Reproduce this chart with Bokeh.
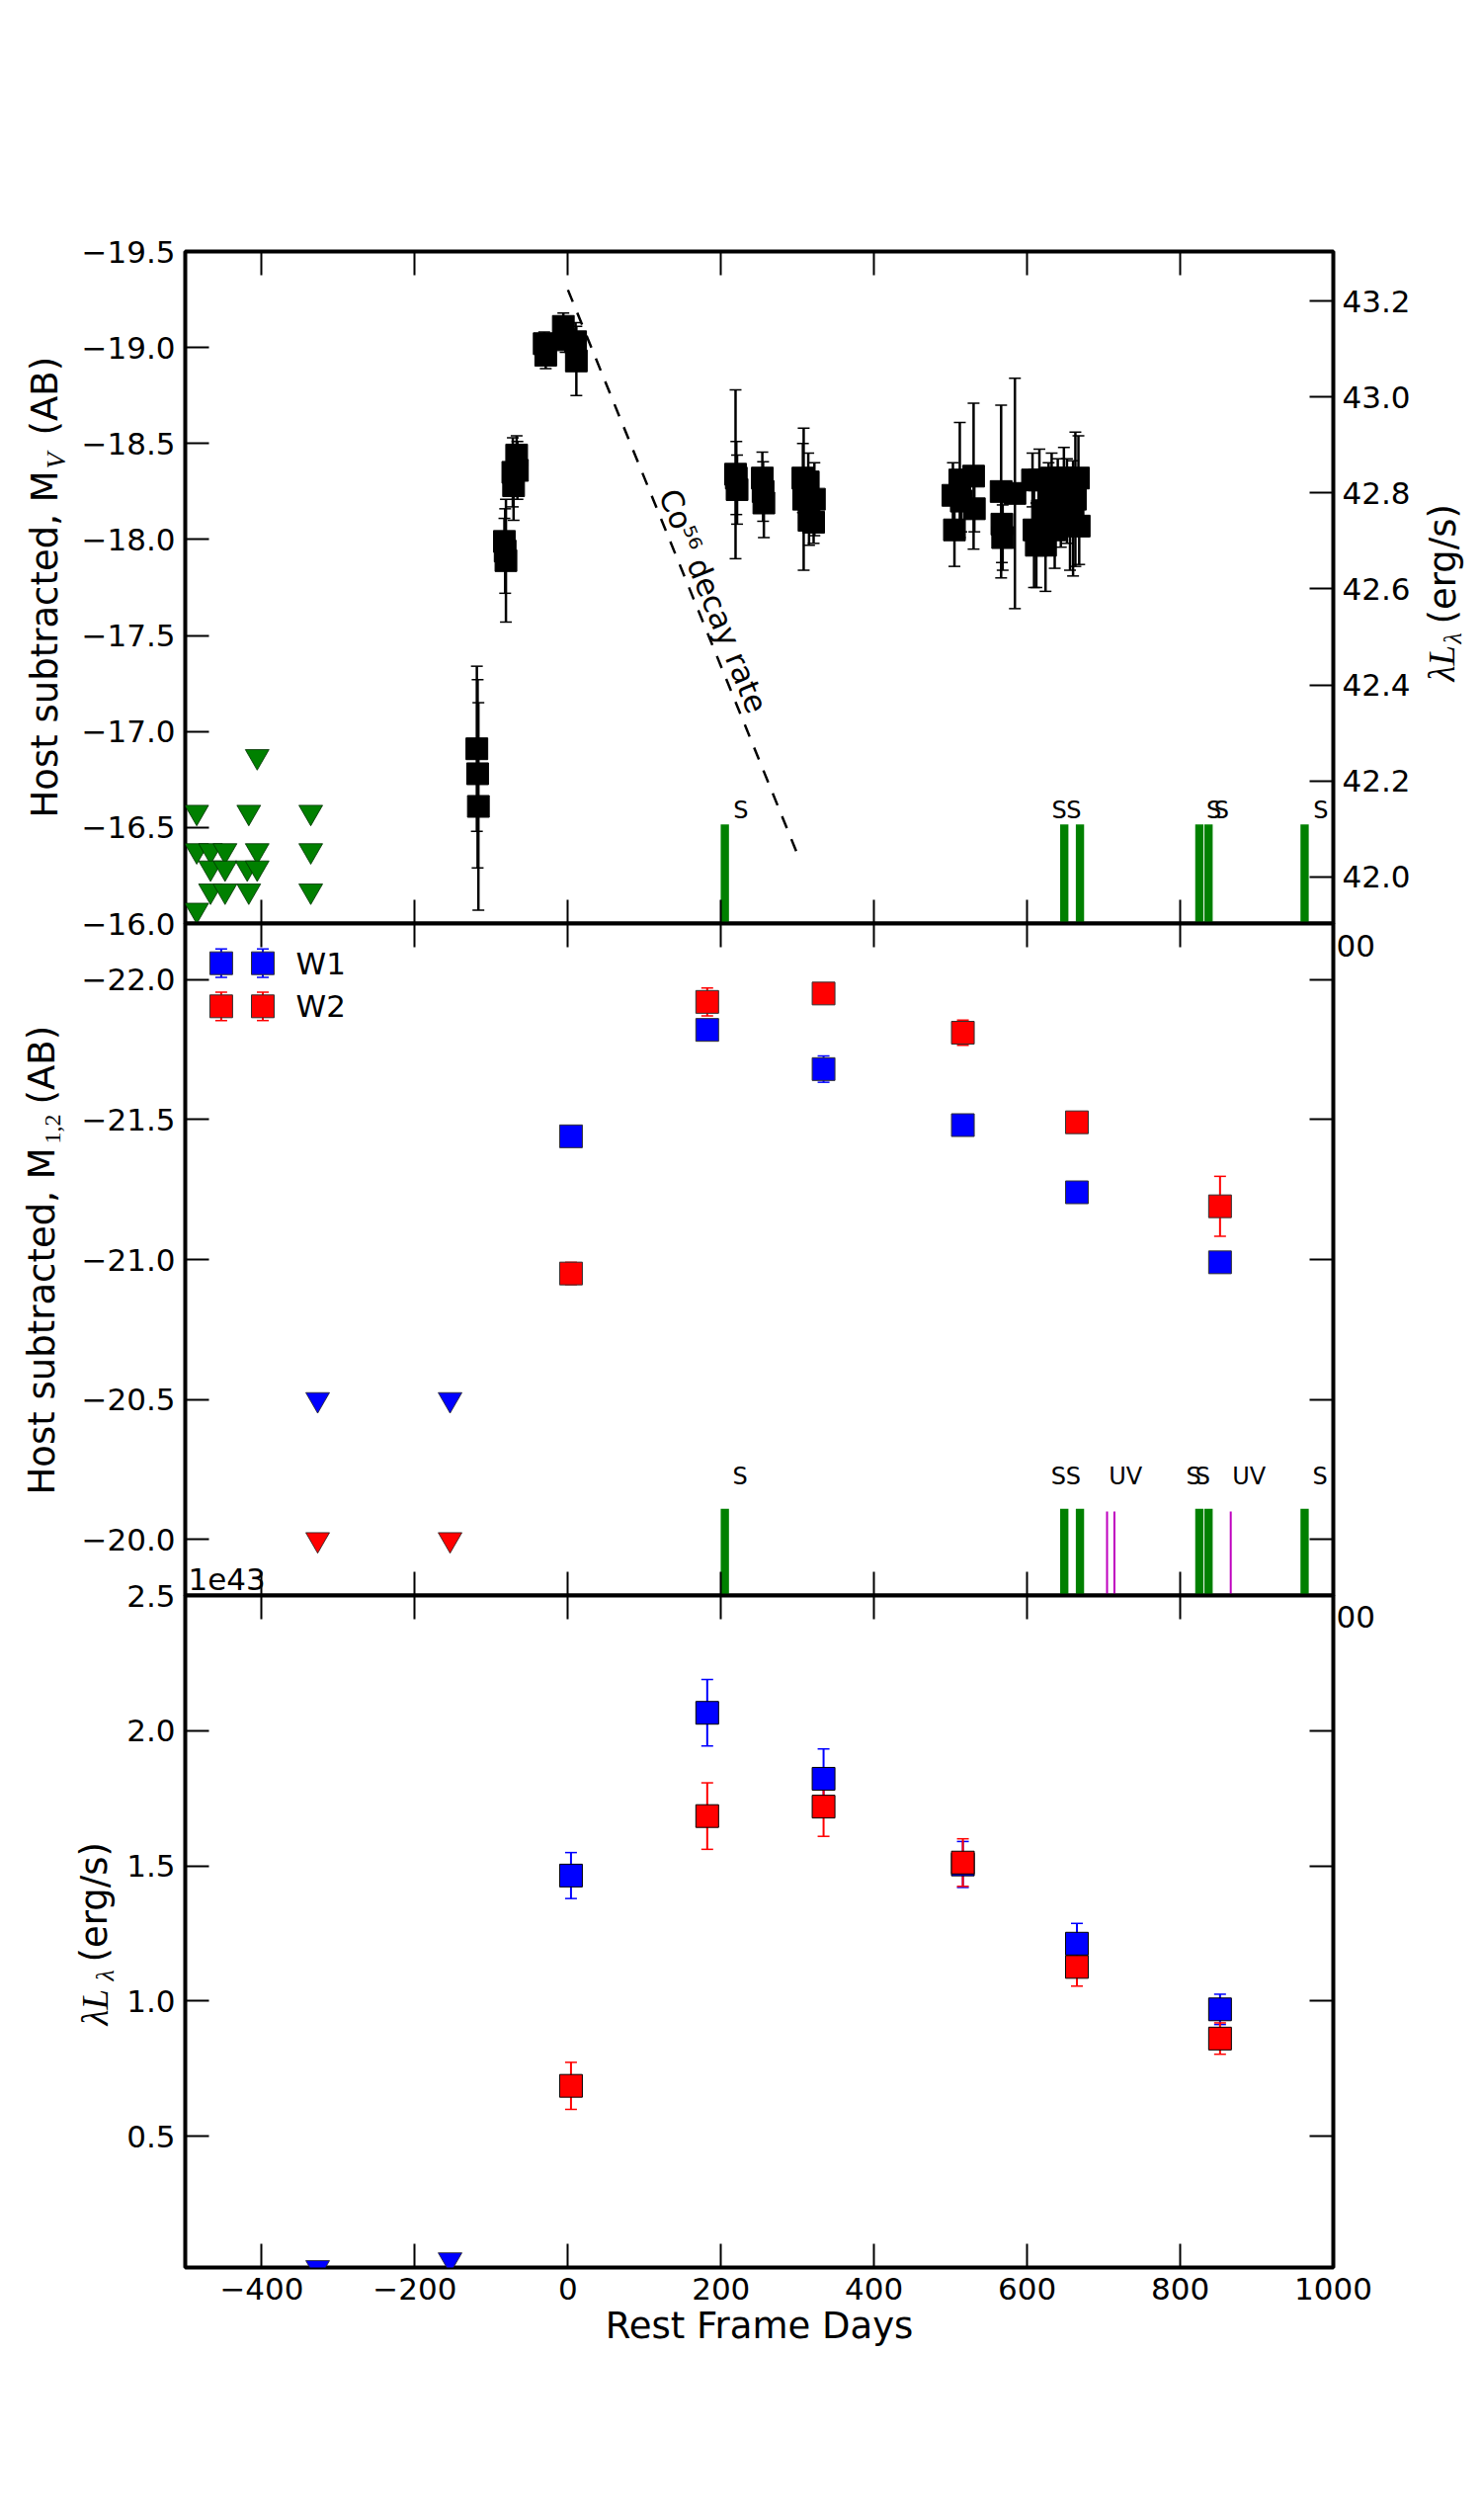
from bokeh.plotting import figure
from bokeh.models import (Range1d, LinearAxis, FixedTicker, CustomJSTickFormatter,
                          Label, Whisker, TeeHead, ColumnDataSource)
from bokeh.layouts import column
from bokeh.core.properties import value
from bokeh.embed import file_html
from bokeh.resources import INLINE

# ---------------------------------------------------------------- data
# Panel 1: host-subtracted V-band absolute magnitude
V_LIM_DAYS = [-485, -485, -485, -467, -467, -467, -448, -448, -448,
              -417, -419, -417, -406, -406, -406, -336, -336, -336]
V_LIM_MAG = [-16.58, -16.38, -16.07, -16.38, -16.29, -16.17, -16.38, -16.29, -16.17,
             -16.58, -16.29, -16.17, -16.87, -16.38, -16.29, -16.58, -16.38, -16.17]

V_DAYS = [-119, -118, -117, -83, -82, -81, -72, -71, -67, -66,
          -31, -29, -6, -3, 10, 11,
          219, 220, 221, 254, 255, 256, 307, 308, 314, 315, 322, 321,
          503, 505, 512, 514, 530, 531, 566, 567, 568, 584, 607, 609, 612, 616,
          620, 624, 628, 632, 636, 640, 644, 648, 652, 656, 660, 663, 667, 668]
V_MAG = [-16.91, -16.78, -16.61, -17.99, -17.94, -17.89, -18.35, -18.28, -18.44, -18.36,
         -19.02, -18.96, -19.11, -19.04, -19.03, -18.93,
         -18.34, -18.32, -18.26, -18.32, -18.25, -18.19, -18.32, -18.21, -18.30, -18.10,
         -18.21, -18.09,
         -18.23, -18.05, -18.31, -18.20, -18.33, -18.16, -18.25, -18.08, -18.01, -18.24,
         -18.31, -18.05, -17.97, -18.31, -18.15, -17.97, -18.22, -18.32, -18.05, -18.28,
         -18.12, -18.32, -18.20, -18.08, -18.11, -18.21, -18.32, -18.07]
V_ERR = [0.43, 0.49, 0.54, 0.12, 0.22, 0.32, 0.18, 0.18, 0.10, 0.15,
         0.06, 0.07, 0.07, 0.065, 0.10, 0.18,
         0.44, 0.19, 0.18, 0.135, 0.155, 0.18, 0.18, 0.37, 0.15, 0.13, 0.19, 0.11,
         0.17, 0.19, 0.30, 0.16, 0.38, 0.12, 0.45, 0.20, 0.17, 0.60, 0.14, 0.30, 0.22,
         0.16, 0.20, 0.24, 0.18, 0.13, 0.20, 0.14, 0.16, 0.16, 0.22, 0.24, 0.30, 0.35,
         0.22, 0.20]

CO_DAYS = [0, 300]
CO_MAG = [-19.30, -16.36]
CO_TEXT = "Co\u2075\u2076 decay rate"

# Spectroscopy / UV epochs (markers on panels 1 and 2)
SPEC_DAYS = [205, 648.5, 669, 825, 837, 962.5]
UV_DAYS = [704.4, 714, 866]
P1_S_LABEL_DAYS = [216, 632, 651, 834, 844, 974]
P2_S_LABEL_DAYS = [215, 631, 650.6, 807.7, 819.7, 973]
P2_UV_LABEL_DAYS = [706.6, 868]

# Panels 2 and 3: WISE W1 / W2
WISE_DAYS = [4, 182, 334, 516, 665, 852]
W1_MAG = [-21.44, -21.82, -21.68, -21.48, -21.24, -20.99]
W1_MAG_ERR = [0.01, 0.02, 0.047, 0.01, 0.01, 0.01]
W2_MAG = [-20.95, -21.92, -21.95, -21.81, -21.49, -21.19]
W2_MAG_ERR = [0.04, 0.05, 0.01, 0.045, 0.01, 0.107]
WISE_LIM_DAYS = [-327, -154]
W1_LIM_MAG = [-20.5, -20.5]
W2_LIM_MAG = [-20.0, -20.0]

W1_LUM = [1.464, 2.066, 1.822, 1.505, 1.212, 0.969]      # units of 1e43 erg/s
W1_LUM_ERR = [0.085, 0.123, 0.110, 0.085, 0.075, 0.056]
W2_LUM = [0.686, 1.684, 1.719, 1.512, 1.126, 0.861]
W2_LUM_ERR = [0.087, 0.123, 0.110, 0.088, 0.071, 0.058]
W1_LIM_LUM = [0.014, 0.043]

# ticks
X_TICKS = [-400, -200, 0, 200, 400, 600, 800, 1000]
P1_TICKS = [-19.5, -19.0, -18.5, -18.0, -17.5, -17.0, -16.5, -16.0]
P1R_TICKS = [42.0, 42.2, 42.4, 42.6, 42.8, 43.0, 43.2]
P2_TICKS = [-22.0, -21.5, -21.0, -20.5, -20.0]
P3_TICKS = [0.5, 1.0, 1.5, 2.0, 2.5]

# ---------------------------------------------------------------- style / layout
FONT = "DejaVu Sans"
MATH = "Liberation Serif"
GREEN, BLUE, RED, MAG = "#008000", "#0000ff", "#ff0000", "#bf00bf"
W, H = 1500, 2550
BL, BR = 187, 151           # left / right borders
PH = 680                    # frame height of each panel
TOP1 = 254
B12 = 60                    # bottom border of panels 1, 2 (hidden under next panel)
T2, T3 = 10, 40
BOT3 = 256
XR = (-500, 1000)
Y1 = (-16.0, -19.5)
Y1R = (41.903, 43.303)
Y2 = (-19.8, -22.2)
Y3 = (0.014, 2.5)
P1_BAR_TOP, P1_LABEL_Y = -16.516, -16.59
P2_BAR_TOP, P2_UV_TOP, P2_LABEL_Y = -20.11, -20.10, -20.226
BAR_W = 10.8


def fx(px):
    return XR[0] + (px - BL) * (XR[1] - XR[0]) / (W - BL - BR)


def fy(py, yr, top):
    return yr[1] + (py - top) * (yr[0] - yr[1]) / PH


def num_fmt(d):
    return CustomJSTickFormatter(
        code="const s = Math.abs(tick).toFixed(%d); return (tick < -1e-9 ? '\u2212' : '') + s;" % d)


def make_fig(h, top, bottom, yr):
    p = figure(width=W, height=h, x_range=Range1d(*XR), y_range=Range1d(*yr),
               output_backend="svg", toolbar_location=None,
               x_axis_location=None, y_axis_location=None,
               min_border_left=BL, min_border_right=BR,
               min_border_top=top, min_border_bottom=bottom,
               background_fill_color="white", border_fill_color="white",
               border_fill_alpha=0, outline_line_color="black", outline_line_width=4)
    p.grid.visible = False
    return p


def add_axis(p, loc, ticks, labels=True, digits=1, standoff=10, y_range_name=None):
    kw = {}
    if y_range_name:
        kw["y_range_name"] = y_range_name
    ax = LinearAxis(ticker=FixedTicker(ticks=ticks, minor_ticks=[]),
                    formatter=num_fmt(digits) if labels else CustomJSTickFormatter(code="return '';"),
                    **kw)
    ax.axis_line_color = None
    ax.major_tick_in = 24
    ax.major_tick_out = 0
    ax.minor_tick_in = 0
    ax.minor_tick_out = 0
    ax.major_tick_line_width = 2
    ax.major_tick_line_color = "black"
    ax.major_label_text_font = FONT
    ax.major_label_text_color = "black"
    if labels:
        ax.major_label_text_font_size = "31px"
        ax.major_label_standoff = standoff
    else:
        ax.major_label_text_font_size = "0px"
        ax.major_label_standoff = 0
    p.add_layout(ax, loc)
    return ax


def add_err(p, xs, ys, errs, color, width, head_w):
    src = ColumnDataSource(dict(x=xs, lo=[y - e for y, e in zip(ys, errs)],
                                hi=[y + e for y, e in zip(ys, errs)]))
    p.add_layout(Whisker(source=src, base="x", lower="lo", upper="hi", dimension="height",
                         line_color=color, line_width=width,
                         lower_head=TeeHead(size=12, line_color=color, line_width=head_w),
                         upper_head=TeeHead(size=12, line_color=color, line_width=head_w)))


def add_label(p, text, x, y, font=FONT, style="normal", size=37, angle=90,
              align="left", baseline="middle"):
    p.add_layout(Label(x=x, y=y, text=text, angle=angle, angle_units="deg",
                       text_font=font, text_font_style=style, text_font_size="%dpx" % size,
                       text_color="black", text_align=align, text_baseline=baseline))


# ---------------------------------------------------------------- panel 1
p1 = make_fig(TOP1 + PH + B12, TOP1, B12, Y1)
p1.extra_y_ranges = {"L": Range1d(*Y1R)}
add_axis(p1, "left", P1_TICKS)
add_axis(p1, "right", P1R_TICKS, y_range_name="L", standoff=9)
add_axis(p1, "above", X_TICKS, labels=False)
add_axis(p1, "below", X_TICKS, labels=False)

p1.vbar(x=SPEC_DAYS, width=BAR_W, bottom=Y1[0], top=P1_BAR_TOP, fill_color=GREEN, line_color=None)
p1.text(x=P1_S_LABEL_DAYS, y=[P1_LABEL_Y] * len(P1_S_LABEL_DAYS), text=["S"] * len(P1_S_LABEL_DAYS),
        text_font=value(FONT), text_font_size="24px", text_color="black",
        text_align="left", text_baseline="middle")
p1.line(CO_DAYS, CO_MAG, line_color="black", line_width=2.5, line_dash="13 12")
p1.scatter(V_LIM_DAYS, V_LIM_MAG, marker="inverted_triangle", size=24,
           fill_color=GREEN, line_color="#003000", line_width=0.8)
add_err(p1, V_DAYS, V_MAG, V_ERR, "black", 2.5, 1.5)
p1.scatter(V_DAYS, V_MAG, marker="square", size=22, fill_color="black", line_color="black")
add_label(p1, CO_TEXT, 190, -17.68, size=31, angle=-67.8, align="center", baseline="middle")

# ---------------------------------------------------------------- panel 2
p2 = make_fig(T2 + PH + B12, T2, B12, Y2)
add_axis(p2, "left", P2_TICKS)
add_axis(p2, "right", P2_TICKS, labels=False)
add_axis(p2, "above", X_TICKS, labels=False)
add_axis(p2, "below", X_TICKS, labels=False)
T2F = TOP1 + PH

p2.vbar(x=SPEC_DAYS, width=BAR_W, bottom=Y2[0], top=P2_BAR_TOP, fill_color=GREEN, line_color=None)
p2.segment(x0=UV_DAYS, y0=[Y2[0]] * len(UV_DAYS), x1=UV_DAYS, y1=[P2_UV_TOP] * len(UV_DAYS),
           line_color=MAG, line_width=2)
p2.text(x=P2_S_LABEL_DAYS + P2_UV_LABEL_DAYS,
        y=[P2_LABEL_Y] * (len(P2_S_LABEL_DAYS) + len(P2_UV_LABEL_DAYS)),
        text=["S"] * len(P2_S_LABEL_DAYS) + ["UV"] * len(P2_UV_LABEL_DAYS),
        text_font=value(FONT), text_font_size="24px", text_color="black",
        text_align="left", text_baseline="middle")
p2.scatter(WISE_LIM_DAYS, W1_LIM_MAG, marker="inverted_triangle", size=24,
           fill_color=BLUE, line_color="#202020", line_width=0.8)
p2.scatter(WISE_LIM_DAYS, W2_LIM_MAG, marker="inverted_triangle", size=24,
           fill_color=RED, line_color="#202020", line_width=0.8)
add_err(p2, WISE_DAYS, W1_MAG, W1_MAG_ERR, BLUE, 2, 1.5)
p2.scatter(WISE_DAYS, W1_MAG, marker="square", size=23, fill_color=BLUE, line_color="#303030")
add_err(p2, WISE_DAYS, W2_MAG, W2_MAG_ERR, RED, 2, 1.5)
p2.scatter(WISE_DAYS, W2_MAG, marker="square", size=23, fill_color=RED, line_color="#303030")

# legend (two markers per entry, as in the original)
LEG_X = [fx(223.4), fx(265.5)]
LEG_TEXT_X = fx(299)
for name, color, py in [("W1", BLUE, 974.2), ("W2", RED, 1017.8)]:
    ly = fy(py, Y2, T2F)
    dy = 14.4 * (Y2[0] - Y2[1]) / PH
    add_err(p2, LEG_X, [ly, ly], [dy, dy], color, 2, 1.5)
    p2.scatter(LEG_X, [ly, ly], marker="square", size=23, fill_color=color, line_color="#303030")
    add_label(p2, name, LEG_TEXT_X, ly, size=31, angle=0, baseline="middle")

# ---------------------------------------------------------------- panel 3
p3 = make_fig(T3 + PH + BOT3, T3, BOT3, Y3)
add_axis(p3, "left", P3_TICKS)
add_axis(p3, "right", P3_TICKS, labels=False)
add_axis(p3, "above", X_TICKS, labels=False)
xb = add_axis(p3, "below", X_TICKS, digits=0, standoff=10)
xb.axis_label = "Rest Frame Days"
xb.axis_label_text_font = FONT
xb.axis_label_text_font_size = "37px"
xb.axis_label_text_font_style = "normal"
xb.axis_label_text_color = "black"
xb.axis_label_standoff = 2

p3.scatter(WISE_LIM_DAYS, W1_LIM_LUM, marker="inverted_triangle", size=24,
           fill_color=BLUE, line_color="#202020", line_width=0.8)
add_err(p3, WISE_DAYS, W1_LUM, W1_LUM_ERR, BLUE, 2, 1.5)
p3.scatter(WISE_DAYS, W1_LUM, marker="square", size=23, fill_color=BLUE, line_color="black")
add_err(p3, WISE_DAYS, W2_LUM, W2_LUM_ERR, RED, 2, 1.5)
p3.scatter(WISE_DAYS, W2_LUM, marker="square", size=23, fill_color=RED, line_color="black")

# ---------------------------------------------------------------- text overlay (page pixels)
ov = figure(frame_width=W, frame_height=H, x_range=Range1d(0, W), y_range=Range1d(H, 0),
            output_backend="svg", toolbar_location=None,
            x_axis_location=None, y_axis_location=None, min_border=0,
            background_fill_alpha=0, border_fill_alpha=0, outline_line_color=None)
ov.frame_align = False
ov.grid.visible = False
for txt, px, py, font, style, size in [
        # panel 1, left  (px = centre of the text band, py = start of text)
        ("Host subtracted, M", 44.5, 827, FONT, "normal", 37),
        ("V", 56, 474, MATH, "italic", 27),
        ("(AB)", 44.5, 440, FONT, "normal", 37),
        # panel 1, right
        ("\u03bbL", 1459, 689, MATH, "italic", 37),
        ("\u03bb", 1470, 651, MATH, "italic", 26),
        ("(erg/s)", 1459.5, 631, FONT, "normal", 37),
        # panel 2, left
        ("Host subtracted, M", 42, 1512, FONT, "normal", 37),
        ("1,2", 53, 1157, MATH, "normal", 24),
        ("(AB)", 42, 1117, FONT, "normal", 37),
        # panel 3, left
        ("\u03bbL", 96, 2049, MATH, "italic", 37),
        ("\u03bb", 106, 2004, MATH, "italic", 26),
        ("(erg/s)", 94.5, 1985, FONT, "normal", 37)]:
    add_label(ov, txt, px, py, font=font, style=style, size=size)
add_label(ov, "1e43", 190, 1597, size=31, angle=0)
add_label(ov, "00", 1352, 956.5, size=31, angle=0)
add_label(ov, "00", 1352, 1635.5, size=31, angle=0)

# overlap the panels exactly like stacked subplots
p2.margin = (-(B12 + T2), 0, 0, 0)
p3.margin = (-(B12 + T3), 0, 0, 0)
ov.margin = (-H, 0, 0, 0)

layout = column(p1, p2, p3, ov)
open("out.html", "w").write(file_html(layout, INLINE))
